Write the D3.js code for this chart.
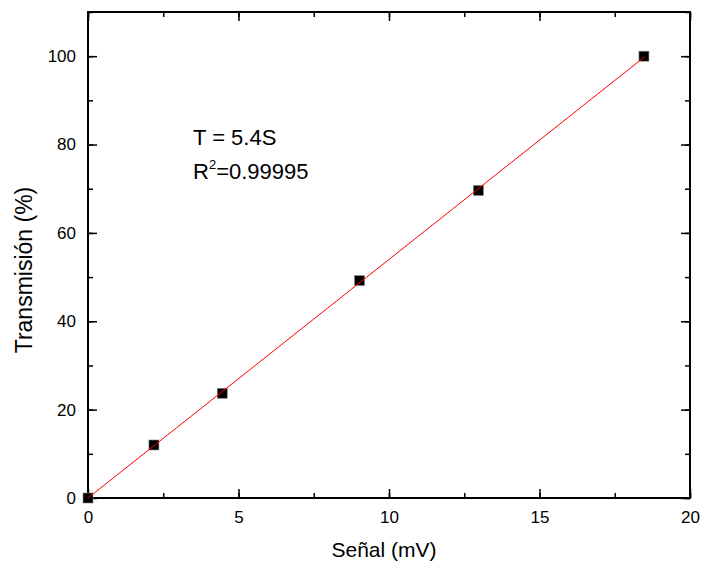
<!DOCTYPE html>
<html><head><meta charset="utf-8">
<script src="https://cdn.jsdelivr.net/npm/d3@7/dist/d3.min.js"></script>
<style>body{margin:0;background:#fff}text{font-family:"Liberation Sans",Arial,sans-serif}</style>
</head><body>
<svg id="c" width="701" height="565"></svg>
<script>
const senal = [0, 2.19, 4.46, 9.02, 12.97, 18.47];
const transmision = [0, 12.0, 23.7, 49.2, 69.6, 100];
const slope = 5.4;
const fitRange = [0, 18.5];
const xTicks = [0, 5, 10, 15, 20];
const yTicks = [0, 20, 40, 60, 80, 100];

const svg = d3.select("#c");
const L = 88, R = 690, T = 12, B = 498;
const x = d3.scaleLinear().domain([0, 20]).range([L, R]);
const y = d3.scaleLinear().domain([0, 110]).range([B, T]);

const g = svg.append("g");
const xMinor = d3.range(0, 20.01, 2.5);
const yMinor = d3.range(0, 110.01, 10);

function axis(gen, tr) {
  const a = g.append("g").attr("transform", tr).call(gen);
  a.select(".domain").remove();
  a.selectAll("line").attr("stroke", "#000").attr("stroke-width", 1.5);
  a.selectAll("text").style("font-size", "17px").attr("fill", "#000");
  return a;
}
// bottom
axis(d3.axisTop(x).tickValues(xMinor).tickSize(5).tickFormat(""), `translate(0,${B})`);
axis(d3.axisTop(x).tickValues(xTicks).tickSize(9).tickFormat(""), `translate(0,${B})`);
axis(d3.axisBottom(x).tickValues(xTicks).tickSize(0).tickPadding(13).tickFormat(d3.format("d")), `translate(0,${B})`);
// top
axis(d3.axisBottom(x).tickValues(xMinor).tickSize(5).tickFormat(""), `translate(0,${T})`);
axis(d3.axisBottom(x).tickValues(xTicks).tickSize(9).tickFormat(""), `translate(0,${T})`);
// left
axis(d3.axisRight(y).tickValues(yMinor).tickSize(5).tickFormat(""), `translate(${L},0)`);
axis(d3.axisRight(y).tickValues(yTicks).tickSize(9).tickFormat(""), `translate(${L},0)`);
axis(d3.axisLeft(y).tickValues(yTicks).tickSize(0).tickPadding(12).tickFormat(d3.format("d")), `translate(${L},0)`);
// right
axis(d3.axisLeft(y).tickValues(yMinor).tickSize(5).tickFormat(""), `translate(${R},0)`);
axis(d3.axisLeft(y).tickValues(yTicks).tickSize(9).tickFormat(""), `translate(${R},0)`);

g.append("rect").attr("x", L).attr("y", T).attr("width", R - L).attr("height", B - T)
  .attr("fill", "none").attr("stroke", "#000").attr("stroke-width", 2);

// points
const s = 10;
g.selectAll("rect.pt").data(senal.map((v, i) => [v, transmision[i]])).enter()
  .append("rect").attr("class", "pt")
  .attr("x", d => x(d[0]) - s / 2).attr("y", d => y(d[1]) - s / 2)
  .attr("width", s).attr("height", s).attr("fill", "#000")
  .attr("stroke", "#888").attr("stroke-width", 0.6);
// fit line (drawn over the squares)
g.append("line")
  .attr("x1", x(fitRange[0])).attr("y1", y(slope * fitRange[0]))
  .attr("x2", x(fitRange[1])).attr("y2", y(slope * fitRange[1]))
  .attr("stroke", "#ff0000").attr("stroke-width", 1);

// annotations
svg.append("text").attr("x", 193).attr("y", 145).style("font-size", "22px").text("T = 5.4S");
const t2 = svg.append("text").attr("x", 193).attr("y", 179).style("font-size", "22px");
t2.append("tspan").text("R");
t2.append("tspan").attr("dy", -10).style("font-size", "13px").text("2");
t2.append("tspan").attr("dy", 10).text("=0.99995");

// axis titles
svg.append("text").attr("x", (L + R) / 2 - 5).attr("y", 557).attr("text-anchor", "middle")
  .style("font-size", "21px").text("Señal (mV)");
svg.append("text").attr("transform", `translate(32,270) rotate(-90)`)
  .attr("text-anchor", "middle").style("font-size", "23px").text("Transmisión (%)");
</script>
</body></html>
